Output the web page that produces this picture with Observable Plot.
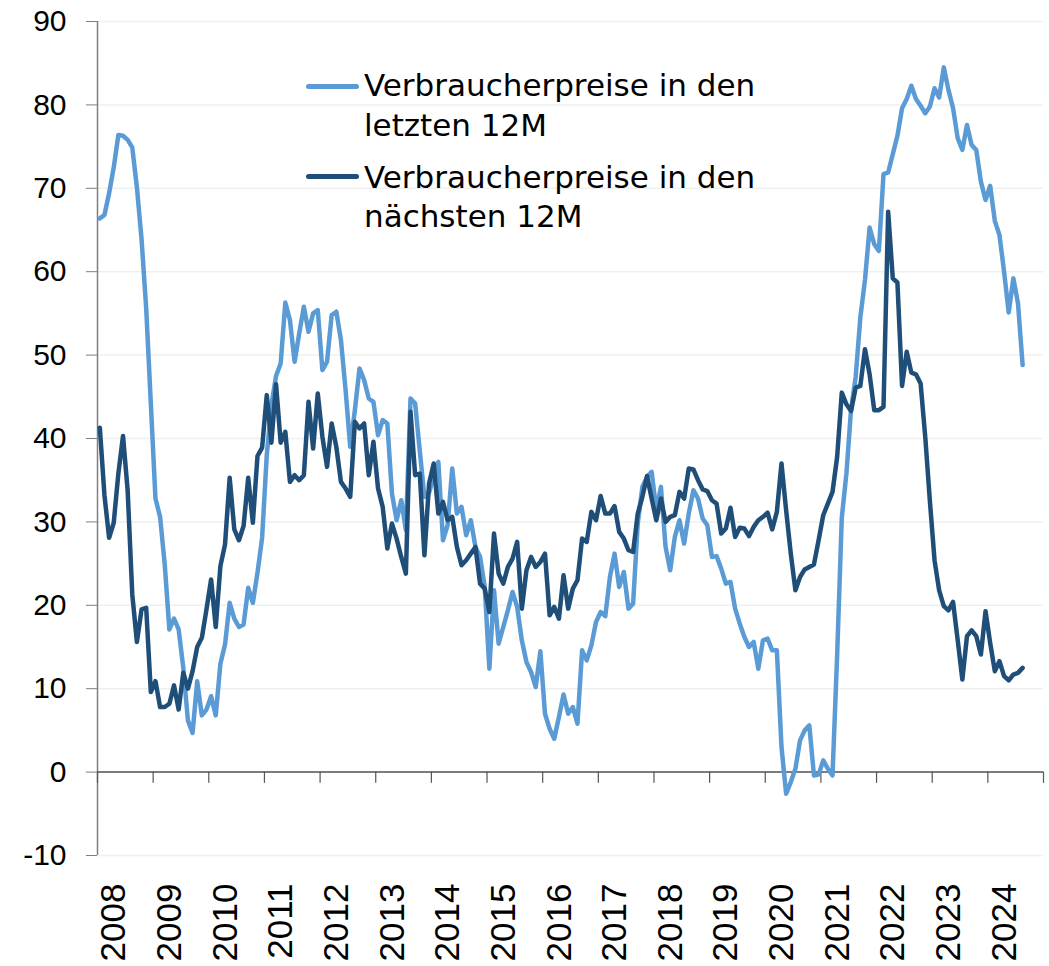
<!DOCTYPE html>
<html>
<head>
<meta charset="utf-8">
<script src="https://cdn.jsdelivr.net/npm/d3@7"></script>
<script src="https://cdn.jsdelivr.net/npm/@observablehq/plot@0.6"></script>
<style>
  html, body { margin: 0; padding: 0; background: #fff; overflow: hidden; }
  #wrap { position: relative; width: 1049px; height: 966px; }
  .leg { position: absolute; font-family: "DejaVu Sans", sans-serif; font-size: 31px; line-height: 39.3px; color: #000; white-space: nowrap; }
  .swatch { position: absolute; height: 5px; border-radius: 2.5px; }
</style>
</head>
<body>
<div id="wrap"></div>
<script>
// ---- Data (monthly, starting January 2008) ----
const startYear = 2008;
const seriesNames = ["Verbraucherpreise in den letzten 12M", "Verbraucherpreise in den nächsten 12M"];
const yearLabels = ["2008","2009","2010","2011","2012","2013","2014","2015","2016","2017","2018","2019","2020","2021","2022","2023","2024"];
const yTicks = [-10, 0, 10, 20, 30, 40, 50, 60, 70, 80, 90];

const pricesLast12M = [
  66.4, 66.8, 69.4, 72.5, 76.4, 76.3, 75.8, 74.9, 70.1, 63.9, 55.6, 44.2,
  32.8, 30.6, 24.9, 17.1, 18.4, 17.1, 12.5, 6.2, 4.7, 10.9, 6.8, 7.5,
  9.1, 6.8, 13.0, 15.3, 20.3, 18.4, 17.4, 17.7, 22.1, 20.3, 23.9, 28.1,
  38.0, 44.0, 47.5, 49.0, 56.3, 54.2, 49.2, 52.6, 55.8, 52.8, 55.0, 55.4,
  48.2, 49.2, 54.8, 55.2, 51.8, 45.8, 39.0, 43.4, 48.4, 47.0, 44.8, 44.4,
  40.4, 42.2, 41.8, 33.4, 30.2, 32.6, 29.0, 44.8, 44.2, 38.5, 33.0, 33.5,
  35.5, 37.2, 27.8, 29.6, 36.4, 31.0, 31.8, 28.4, 30.2, 27.0, 25.8, 22.2,
  12.4, 21.8, 15.4, 17.4, 19.4, 21.6, 19.8, 15.8, 13.2, 12.0, 10.2, 14.5,
  7.0, 5.2, 4.0, 6.6, 9.3, 7.0, 7.8, 5.8, 14.6, 13.4, 15.2, 18.0,
  19.2, 18.7, 23.4, 26.2, 22.2, 24.0, 19.6, 20.2, 29.8, 34.2, 35.4, 36.0,
  31.4, 34.2, 27.0, 24.2, 28.2, 30.2, 27.4, 31.0, 33.8, 32.8, 30.4, 29.6,
  25.8, 25.9, 24.4, 22.6, 22.8, 19.6, 17.8, 16.2, 15.0, 15.6, 12.4, 15.8,
  16.0, 14.6, 14.6, 3.0, -2.6, -1.2, 0.4, 3.8, 5.0, 5.6, -0.4, -0.3,
  1.4, 0.4, -0.4, 14.0, 30.5, 35.8, 43.5, 47.4, 54.5, 59.0, 65.3, 63.3,
  62.5, 71.7, 71.9, 74.1, 76.3, 79.6, 80.7, 82.3, 80.7, 79.9, 79.0, 79.8,
  82.0, 80.9, 84.5, 81.8, 79.6, 76.0, 74.6, 77.6, 75.2, 74.6, 70.8, 68.6,
  70.3, 66.1, 64.4, 60.0, 55.1, 59.2, 56.2, 48.8
];

const pricesNext12M = [
  41.3, 33.2, 28.1, 29.9, 35.8, 40.3, 33.8, 21.3, 15.6, 19.5, 19.7, 9.6,
  10.9, 7.8, 7.8, 8.2, 10.4, 7.5, 11.9, 10.0, 12.1, 15.0, 16.1, 19.5,
  23.1, 17.4, 24.7, 27.3, 35.3, 29.1, 27.8, 29.5, 35.3, 29.9, 37.9, 38.9,
  45.2, 39.5, 46.5, 39.5, 40.8, 34.8, 35.6, 35.0, 35.6, 44.4, 38.8, 45.4,
  40.2, 36.6, 41.8, 39.0, 34.8, 34.0, 33.0, 42.0, 41.2, 41.8, 35.6, 39.6,
  34.0, 31.8, 26.8, 29.8, 28.0, 25.8, 23.8, 43.2, 35.6, 35.8, 26.0, 34.6,
  37.0, 31.0, 32.4, 30.2, 30.6, 27.0, 24.8, 25.4, 26.2, 27.0, 22.6, 22.0,
  19.2, 28.6, 23.8, 22.6, 24.6, 25.6, 27.6, 19.6, 24.2, 25.8, 24.6, 25.2,
  26.2, 18.8, 19.8, 18.4, 23.6, 19.6, 22.0, 23.0, 28.0, 27.6, 31.2, 30.2,
  33.1, 31.0, 31.0, 31.9, 28.8, 28.0, 26.6, 26.4, 31.0, 33.0, 35.5, 32.8,
  30.2, 32.8, 30.0, 30.6, 30.8, 33.6, 32.8, 36.4, 36.3, 35.0, 33.9, 33.7,
  32.6, 32.2, 28.6, 29.2, 31.7, 28.2, 29.3, 29.2, 28.3, 29.4, 30.2, 30.6,
  31.1, 29.1, 31.2, 37.0, 31.4, 26.2, 21.8, 23.4, 24.3, 24.6, 24.9, 27.8,
  30.8, 32.2, 33.6, 37.8, 45.5, 44.1, 43.3, 46.1, 46.3, 50.7, 47.7, 43.4,
  43.4, 43.8, 67.2, 59.2, 58.7, 46.3, 50.4, 47.9, 47.7, 46.6, 40.2, 32.5,
  25.4, 21.8, 19.9, 19.4, 20.4, 15.8, 11.1, 16.3, 17.0, 16.3, 14.1, 19.3,
  15.5, 12.1, 13.3, 11.5, 11.0, 11.7, 11.9, 12.5
];

const colors = ["#5b9bd5", "#1f4e79"];

// table built from the arrays: one row per month
const toRows = (vals, name) => vals.map((v, i) => ({t: startYear + (i + 0.5) / 12, v, name}));
const rowsLast = toRows(pricesLast12M, seriesNames[0]);
const rowsNext = toRows(pricesNext12M, seriesNames[1]);
const yearBounds = d3.range(startYear, startYear + yearLabels.length + 1);

const chart = Plot.plot({
  width: 1049,
  height: 966,
  marginLeft: 97,
  marginRight: 6,
  marginTop: 21,
  marginBottom: 111,
  x: {domain: [startYear, startYear + yearLabels.length], axis: null},
  y: {domain: [-10, 90]},
  style: {fontFamily: "Liberation Sans, Arial, sans-serif", background: "#fff", color: "#000"},
  marks: [
    Plot.ruleY(yTicks, {stroke: "#eef0f0", strokeWidth: 1.5}),
    Plot.axisY({ticks: yTicks, tickFormat: d => String(d), tickSize: 11, tickPadding: 20, fontSize: 30, stroke: "#7f7f7f", fill: "#000", label: null}),
    Plot.ruleX([startYear], {y1: -10, y2: 90, stroke: "#7f7f7f", strokeWidth: 1.5}),
    Plot.ruleY([0], {stroke: "#555", strokeWidth: 1.5}),
    Plot.ruleX(yearBounds, {y1: 0, y2: -1.35, stroke: "#555", strokeWidth: 1.2}),
    Plot.text(yearLabels, {
      x: d => +d + 0.5, frameAnchor: "bottom", text: d => d,
      rotate: -90, textAnchor: "end", dy: 28, fontSize: 35, fill: "#000"
    }),
    Plot.line(rowsLast, {x: "t", y: "v", stroke: colors[0], strokeWidth: 4.5, strokeLinejoin: "round", strokeLinecap: "round"}),
    Plot.line(rowsNext, {x: "t", y: "v", stroke: colors[1], strokeWidth: 4.5, strokeLinejoin: "round", strokeLinecap: "round"})
  ]
});

const wrap = document.getElementById("wrap");
wrap.appendChild(chart);

// Legend (overlaid inside the plot area, upper middle)
const legendItems = [
  {lines: ["Verbraucherpreise in den", "letzten 12M"], color: colors[0], top: 66.3, swatchY: 83.5},
  {lines: ["Verbraucherpreise in den", "nächsten 12M"], color: colors[1], top: 158.0, swatchY: 173.5}
];
for (const item of legendItems) {
  const sw = document.createElement("div");
  sw.className = "swatch";
  sw.style.left = "306px";
  sw.style.width = "53px";
  sw.style.top = item.swatchY + "px";
  sw.style.background = item.color;
  wrap.appendChild(sw);
  const tx = document.createElement("div");
  tx.className = "leg";
  tx.style.left = "364px";
  tx.style.top = item.top + "px";
  tx.innerHTML = item.lines.join("<br>");
  wrap.appendChild(tx);
}
</script>
</body>
</html>
